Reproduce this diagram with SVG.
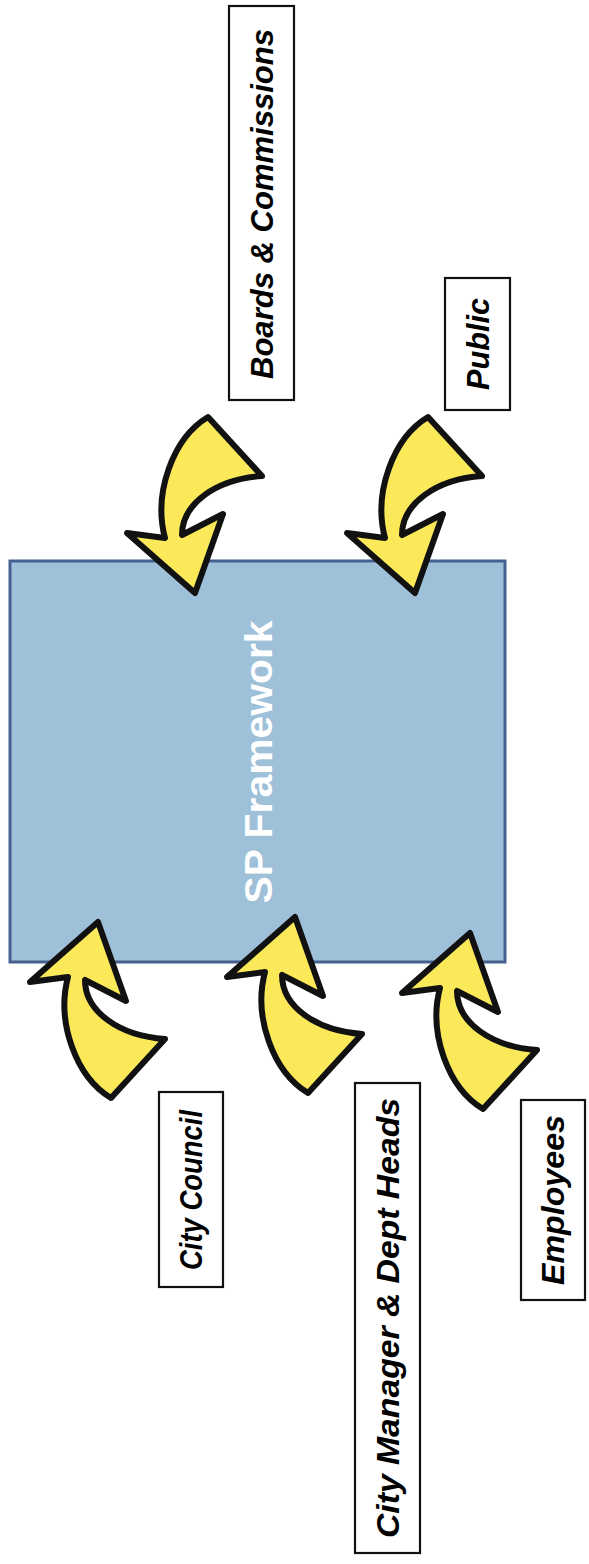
<svg xmlns="http://www.w3.org/2000/svg" width="589" height="1564" viewBox="0 0 589 1564">
<style>
.lbl{fill:#fff;stroke:#111;stroke-width:2.2}
.lt{font-family:"Liberation Sans",Arial,sans-serif;font-weight:bold;font-style:italic;font-size:31px;fill:#000;text-anchor:middle;dominant-baseline:central}
.arr{fill:#fbe95a;stroke:#111;stroke-width:6;stroke-linejoin:round}
</style>
<defs>
<path id="ua" d="M0,0 L28,79 L-13,58 C-13,90 22,114 67,117 L13,176 C-22,155 -42,100 -30,55 L-68,60 Z"/>
</defs>
<rect x="0" y="0" width="589" height="1564" fill="#fff"/>
<g id="sp-framework">
<rect x="10" y="561" width="495" height="401" fill="#9ec0d9" stroke="#44618f" stroke-width="3"/>
<text transform="translate(259,762) rotate(-90)" font-family="'Liberation Sans',Arial,sans-serif" font-weight="bold" font-size="38" fill="#fff" text-anchor="middle" dominant-baseline="central" textLength="283" lengthAdjust="spacingAndGlyphs">SP Framework</text>
</g>
<g id="connectors">
<use href="#ua" class="arr" transform="translate(195,593) scale(1,-1)"/>
<use href="#ua" class="arr" transform="translate(415,593) scale(1,-1)"/>
<use href="#ua" class="arr" transform="translate(98,922)"/>
<use href="#ua" class="arr" transform="translate(295,917)"/>
<use href="#ua" class="arr" transform="translate(470,933)"/>
</g>
<g id="boards">
<rect class="lbl" x="229" y="6" width="65" height="394"/>
<text class="lt" transform="translate(262,204) rotate(-90)" textLength="350" lengthAdjust="spacingAndGlyphs">Boards &amp; Commissions</text>
</g>
<g id="public">
<rect class="lbl" x="445" y="278" width="65" height="132"/>
<text class="lt" transform="translate(478,344) rotate(-90)" textLength="92" lengthAdjust="spacingAndGlyphs">Public</text>
</g>
<g id="city-council">
<rect class="lbl" x="159" y="1092" width="64" height="195"/>
<text class="lt" transform="translate(191,1190) rotate(-90)" textLength="160" lengthAdjust="spacingAndGlyphs">City Council</text>
</g>
<g id="city-manager">
<rect class="lbl" x="355" y="1083" width="65" height="470"/>
<text class="lt" transform="translate(388,1318) rotate(-90)" textLength="440" lengthAdjust="spacingAndGlyphs">City Manager &amp; Dept Heads</text>
</g>
<g id="employees">
<rect class="lbl" x="521" y="1100" width="64" height="200"/>
<text class="lt" transform="translate(553,1200) rotate(-90)" textLength="170" lengthAdjust="spacingAndGlyphs">Employees</text>
</g>
</svg>
